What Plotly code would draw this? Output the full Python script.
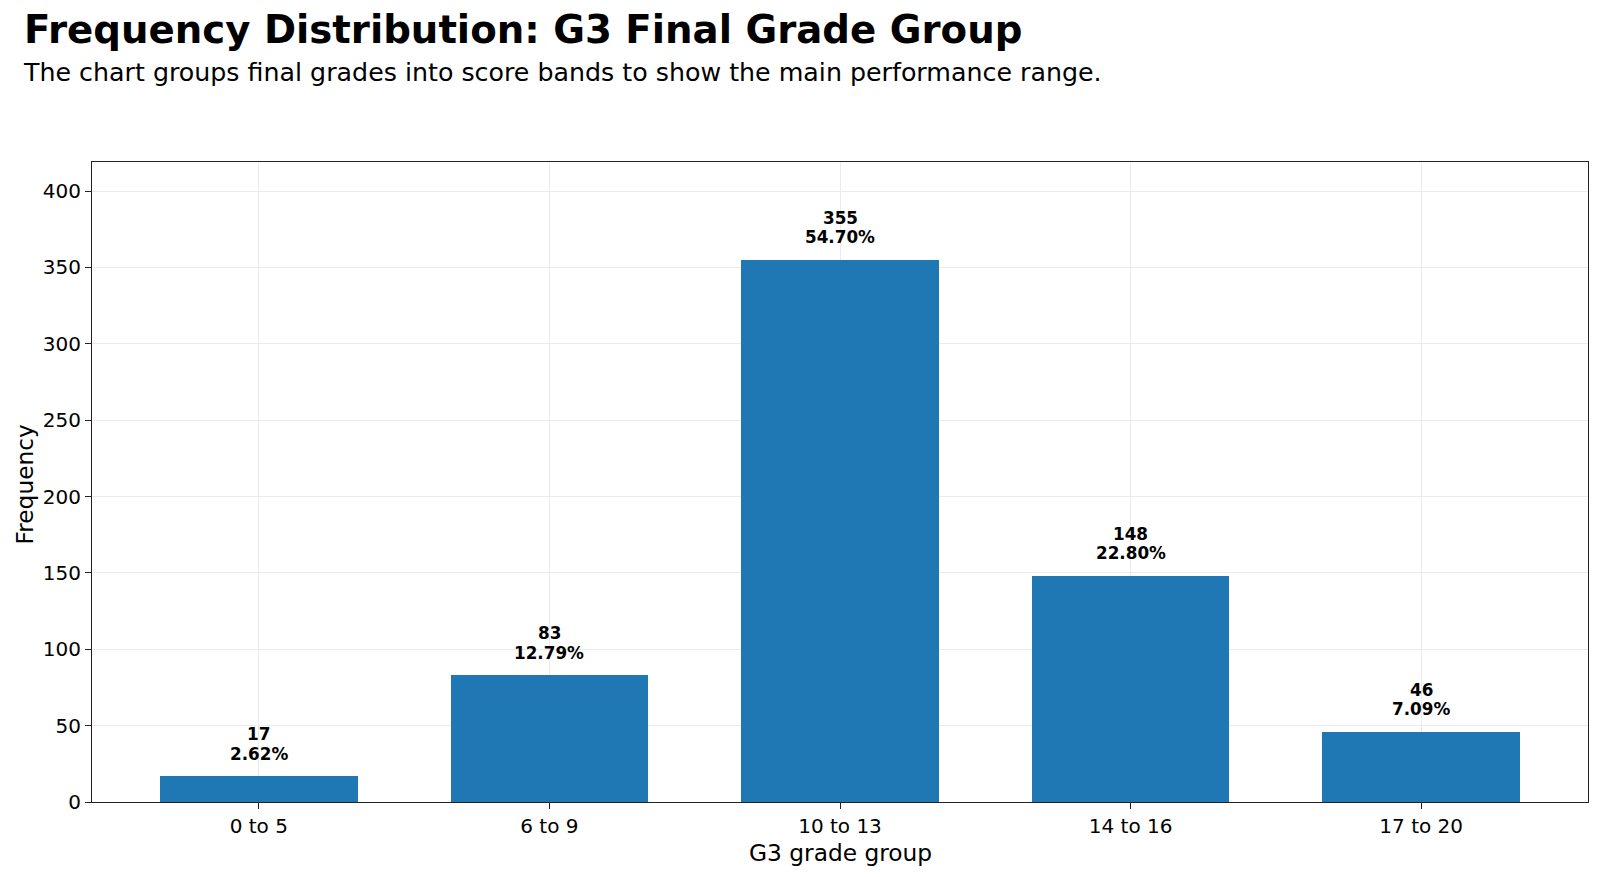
import plotly.graph_objects as go

categories = ["0 to 5", "6 to 9", "10 to 13", "14 to 16", "17 to 20"]
counts = [17, 83, 355, 148, 46]
y_ticks = [0, 50, 100, 150, 200, 250, 300, 350, 400]

total = sum(counts)
pcts = [c / total * 100 for c in counts]

FONT = "DejaVu Sans"
W, H = 1600, 877
L, R, T, B = 92, 12, 162, 75
PH = H - T - B
PW = W - L - R


def py(px):
    return (H - B - px) / PH


def pxx(px):
    return (px - L) / PW


fig = go.Figure()
fig.add_trace(go.Bar(
    x=categories, y=counts, width=0.68,
    marker=dict(color="#1f77b4", line=dict(width=0)),
    hoverinfo="skip",
))

ann = []
for c, v, p in zip(categories, counts, pcts):
    ann.append(dict(x=c, y=v, xref="x", yref="y", text=f"<b>{p:.2f}%</b>",
                    showarrow=False, yanchor="bottom", xanchor="center", yshift=10.5,
                    font=dict(family=FONT, size=16.8, color="black")))
    ann.append(dict(x=c, y=v, xref="x", yref="y", text=f"<b>{v}</b>",
                    showarrow=False, yanchor="bottom", xanchor="center", yshift=30,
                    font=dict(family=FONT, size=16.8, color="black")))

ann.append(dict(x=pxx(22), y=py(29), xref="paper", yref="paper", xanchor="left", yanchor="middle",
                text="<b>Frequency Distribution: G3 Final Grade Group</b>", showarrow=False,
                font=dict(family=FONT, size=38.7, color="black")))
ann.append(dict(x=pxx(21), y=py(72.5), xref="paper", yref="paper", xanchor="left", yanchor="middle",
                text="The chart groups final grades into score bands to show the main performance range.",
                showarrow=False, font=dict(family=FONT, size=25.3, color="black")))
ann.append(dict(x=0.5, y=py(852), xref="paper", yref="paper", xanchor="center", yanchor="middle",
                text="G3 grade group", showarrow=False, font=dict(family=FONT, size=23.3, color="black")))
ann.append(dict(x=pxx(24), y=py(484.5), xref="paper", yref="paper", xanchor="center", yanchor="middle",
                text="Frequency", textangle=-90, showarrow=False,
                font=dict(family=FONT, size=23.3, color="black")))

fig.update_layout(
    width=W, height=H,
    margin=dict(l=L, r=R, t=T, b=B, pad=0),
    paper_bgcolor="white", plot_bgcolor="white",
    showlegend=False,
    font=dict(family=FONT, size=20, color="black"),
    annotations=ann,
    bargap=0,
)
fig.update_xaxes(
    range=[-0.574, 4.574], showgrid=True, gridcolor="#ebebeb", gridwidth=1,
    ticks="outside", ticklen=6, tickwidth=1.2, tickcolor="#222",
    showline=True, linecolor="#222", linewidth=1.2, mirror=True,
    tickfont=dict(family=FONT, size=20, color="black"), zeroline=False,
)
fig.update_yaxes(
    range=[0, 419], tickvals=y_ticks, showgrid=True, gridcolor="#ebebeb", gridwidth=1,
    ticks="outside", ticklen=6, tickwidth=1.2, tickcolor="#222",
    showline=True, linecolor="#222", linewidth=1.2, mirror=True,
    tickfont=dict(family=FONT, size=20, color="black"), zeroline=False,
)

fig.write_html("out.html")
